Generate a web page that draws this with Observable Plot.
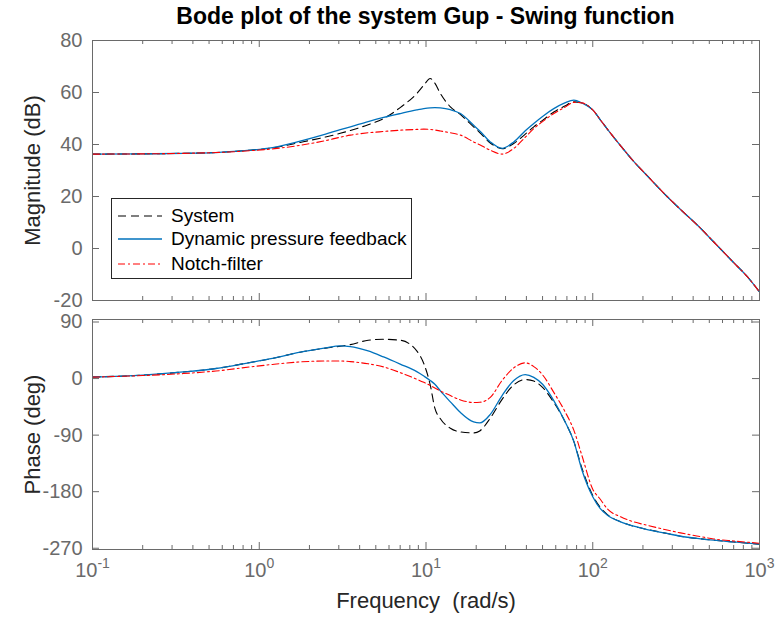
<!DOCTYPE html>
<html><head><meta charset="utf-8">
<script src="https://cdn.jsdelivr.net/npm/d3@7"></script>
<script src="https://cdn.jsdelivr.net/npm/@observablehq/plot@0.6"></script>
<style>
body{margin:0;background:#fff;}
#wrap{position:relative;width:779px;height:626px;font-family:"Liberation Sans",Arial,sans-serif;overflow:hidden;background:#fff;}
#title{position:absolute;left:92px;width:667px;top:5px;text-align:center;font-weight:bold;font-size:23px;line-height:23px;color:#000;}
#p1,#p2{position:absolute;left:0;}
#p1{top:0;} #p2{top:310px;}
svg text{white-space:pre;}
#legend{position:absolute;left:111px;top:198px;width:299px;height:79px;border:1px solid #262626;background:#fff;font-size:19px;color:#000;}
.lrow{position:absolute;left:0;height:24px;width:299px;}
.lrow svg{position:absolute;left:6px;top:0;}
.lrow span{position:absolute;left:59px;top:0;line-height:24px;white-space:pre;}
</style></head><body>
<div id="wrap">
  <div id="p1"></div>
  <div id="p2"></div>
  <div id="title">Bode plot of the system Gup - Swing function</div>
  <div id="legend"></div>
</div>
<script>
// ---- data ----
const freq = [0.1, 0.2, 0.35, 0.55, 0.88, 1.2, 1.76, 2.5, 3.06, 3.52, 4.5, 5.57, 7.0, 8.8, 9.7, 10.6, 11.3, 12.2, 14, 16.1, 19.3, 21, 24.3, 28.6, 33.6, 39.4, 44.3, 50, 58.4, 68, 77, 86, 100, 111, 122, 147, 176, 212, 279, 336, 443, 532, 702, 850, 1000];

const magSystem = [36.3, 36.4, 36.6, 36.9, 37.8, 38.7, 40.8, 42.9, 44.3, 45.4, 47.6, 50.0, 54.2, 59.6, 62.8, 65.4, 63.6, 59.6, 54.5, 51.5, 46.8, 44.6, 40.6, 38.4, 40.4, 44.0, 46.8, 49.3, 52.5, 54.8, 56.4, 56.0, 53.3, 49.5, 46.0, 39.5, 33.5, 28.0, 20.0, 15.0, 7.8, 2.5, -5.5, -11.0, -16.7];
const magDPF = [36.3, 36.4, 36.6, 36.9, 37.8, 38.8, 41.3, 44.0, 45.7, 46.8, 48.8, 50.4, 51.9, 53.3, 53.8, 54.1, 54.2, 54.1, 53.4, 51.9, 47.4, 45.2, 41.0, 38.5, 41.0, 45.3, 48.1, 50.8, 53.8, 56.0, 57.1, 56.0, 53.3, 49.5, 46.0, 39.5, 33.5, 28.0, 20.0, 15.0, 7.8, 2.5, -5.5, -11.0, -16.7];
const magNotch = [36.3, 36.4, 36.6, 36.9, 37.6, 38.3, 39.7, 41.5, 42.8, 43.6, 44.5, 45.0, 45.5, 45.8, 45.9, 45.8, 45.6, 45.2, 44.5, 43.6, 41.0, 39.9, 37.8, 36.3, 38.5, 42.8, 46.1, 48.8, 51.9, 54.3, 56.2, 56.0, 53.3, 49.5, 46.0, 39.5, 33.5, 28.0, 20.0, 15.0, 7.8, 2.5, -5.5, -11.0, -16.7];

const phaseSystem = [2.5, 5.5, 10.5, 16, 25.5, 32, 42, 48.5, 51.5, 54, 61, 62.5, 61, 44, 24, -10, -47, -64, -79, -85, -86.5, -83.3, -63, -33, -10, -1.6, -4, -14, -38, -68, -100, -142, -186, -205, -216, -228, -235, -240, -246.5, -250.9, -255, -257.2, -260, -262, -263.5];
const phaseDPF = [2.5, 5.5, 10.5, 16, 25.5, 32, 42, 49, 51.9, 51, 44, 34.4, 23, 11, 4, -3, -9, -19.7, -37, -54, -69, -70.6, -57, -27, -3, 6.4, 2, -9, -35, -68, -100, -145, -188, -207, -217, -228, -235, -240.2, -246.5, -250.9, -255, -257.2, -260, -262, -263.5];
const phaseNotch = [2.3, 4.8, 8, 12, 18.5, 22.5, 26.5, 28, 28, 27, 23.5, 18.5, 9.5, -1, -6, -11, -15, -19.7, -27, -34, -38, -37.7, -30, -3, 17, 25, 19, 6, -22, -52, -82, -122, -176, -192, -207, -220, -228, -233.4, -241, -245.6, -251.5, -255.2, -258.5, -260.5, -262];

const seriesNames = ["System", "Dynamic pressure feedback", "Notch-filter"];
const magTicks = [-20, 0, 20, 40, 60, 80];
const phaseTicks = [-270, -180, -90, 0, 90];
const decades = [0.1, 1, 10, 100, 1000];

// ---- styles ----
const styles = {
  "System": {stroke: "#000000", dash: "8,5", width: 1.1},
  "Dynamic pressure feedback": {stroke: "#0072BD", dash: null, width: 1.3},
  "Notch-filter": {stroke: "#FF0000", dash: "7,3,2,3", width: 1.1}
};
const axisColor = "#6a6a6a";
const font = '"Liberation Sans", Arial, sans-serif';

const minorTicks = decades.slice(0, -1).flatMap(d => [2,3,4,5,6,7,8,9].map(k => k * d));

function rows(values) { return freq.map((f, i) => ({f, v: values[i]})); }
const magData = [magSystem, magDPF, magNotch];
const phaseData = [phaseSystem, phaseDPF, phaseNotch];

function lineMarks(sets) {
  return seriesNames.map((name, i) => Plot.line(rows(sets[i]), {
    x: "f", y: "v", stroke: styles[name].stroke, strokeWidth: styles[name].width,
    strokeDasharray: styles[name].dash, curve: "monotone-x", clip: true
  }));
}

function boxTicks(yTicks, plotW, plotH) {
  return [
    Plot.tickX(decades, {x: d => d, insetBottom: plotH - 7, stroke: axisColor}),
    Plot.tickX(decades, {x: d => d, insetTop: plotH - 7, stroke: axisColor}),
    Plot.tickX(minorTicks, {x: d => d, insetBottom: plotH - 4, stroke: axisColor}),
    Plot.tickX(minorTicks, {x: d => d, insetTop: plotH - 4, stroke: axisColor}),
    Plot.tickY(yTicks, {y: d => d, insetRight: plotW - 7, stroke: axisColor}),
    Plot.tickY(yTicks, {y: d => d, insetLeft: plotW - 7, stroke: axisColor})
  ];
}

const W = 779, mL = 92, mR = 20;
const plotW = W - mL - mR;

// ---- magnitude panel ----
const H1 = 310, mT1 = 40, mB1 = 10;
const p1 = Plot.plot({
  width: W, height: H1, marginLeft: mL, marginRight: mR, marginTop: mT1, marginBottom: mB1,
  style: {fontFamily: font, fontSize: "20px", background: "transparent", overflow: "visible"},
  x: {type: "log", domain: [0.1, 1000], axis: null},
  y: {domain: [-20, 80]},
  marks: [
    ...lineMarks(magData),
    ...boxTicks(magTicks, plotW, H1 - mT1 - mB1),
    Plot.frame({stroke: axisColor}),
    Plot.axisY(magTicks, {tickSize: 0, tickPadding: 10, fontSize: 20, color: axisColor, label: null, tickFormat: d => String(d)}),
    Plot.text(["Magnitude (dB)"], {text: d => d, frameAnchor: "left", textAnchor: "middle", lineAnchor: "middle", rotate: -90, dx: -60, fontSize: 22, fill: "#262626"})
  ]
});
document.getElementById("p1").appendChild(p1);

// ---- phase panel ----
const H2 = 316, mT2 = 9, mB2 = 77;
const p2 = Plot.plot({
  width: W, height: H2, marginLeft: mL, marginRight: mR, marginTop: mT2, marginBottom: mB2,
  style: {fontFamily: font, fontSize: "20px", background: "transparent", overflow: "visible"},
  x: {type: "log", domain: [0.1, 1000]},
  y: {domain: [-272, 94]},
  marks: [
    ...lineMarks(phaseData),
    ...boxTicks(phaseTicks, plotW, H2 - mT2 - mB2),
    Plot.frame({stroke: axisColor}),
    Plot.axisY(phaseTicks, {tickSize: 0, tickPadding: 10, fontSize: 20, color: axisColor, label: null, tickFormat: d => String(d)}),
    Plot.axisX(decades, {tickSize: 0, tickPadding: 13, fontSize: 20, color: axisColor, label: null,
      tickFormat: d => "10^" + Math.round(Math.log10(d))}),
    Plot.text(["Phase (deg)"], {text: d => d, frameAnchor: "left", textAnchor: "middle", lineAnchor: "middle", rotate: -90, dx: -60, fontSize: 22, fill: "#262626"}),
    Plot.text(["Frequency  (rad/s)"], {text: d => d, frameAnchor: "bottom", textAnchor: "middle", dy: 58, fontSize: 22, fill: "#262626"})
  ]
});
document.getElementById("p2").appendChild(p2);

// superscript exponents on decade tick labels
p2.querySelectorAll('g[aria-label="x-axis tick label"] text').forEach(t => {
  const parts = t.textContent.split("^");
  if (parts.length !== 2) return;
  t.textContent = parts[0];
  const ts = document.createElementNS("http://www.w3.org/2000/svg", "tspan");
  ts.setAttribute("dy", "-9");
  ts.setAttribute("font-size", "14");
  ts.textContent = parts[1];
  t.appendChild(ts);
});

// ---- legend ----
const legend = document.getElementById("legend");
const rowTops = [5, 28, 53];
seriesNames.forEach((name, i) => {
  const s = styles[name];
  const row = document.createElement("div");
  row.className = "lrow";
  row.style.top = rowTops[i] + "px";
  row.innerHTML = `<svg width="46" height="24"><line x1="0" x2="44" y1="12" y2="12" stroke="${s.stroke}" stroke-width="${s.width}" ${s.dash ? `stroke-dasharray="${s.dash}"` : ""}/></svg><span></span>`;
  row.querySelector("span").textContent = name;
  legend.appendChild(row);
});
</script>
</body></html>
